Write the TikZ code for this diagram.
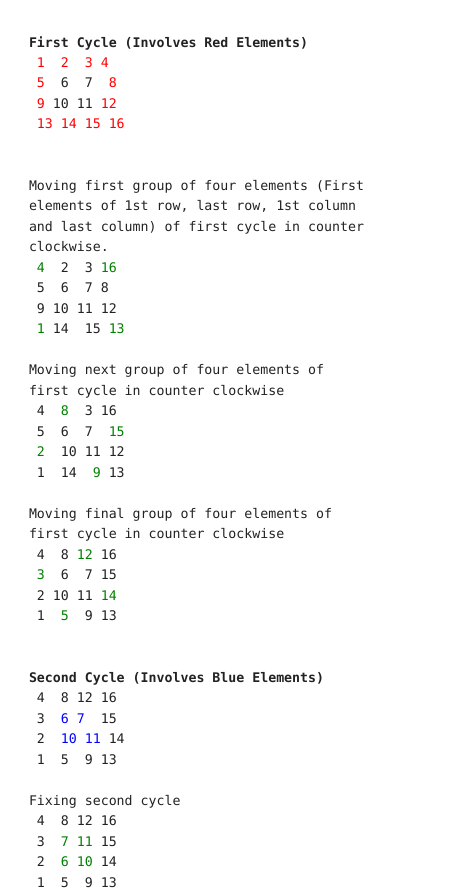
\documentclass[tikz,border=0pt]{standalone}
\usepackage{fontspec}
\setmonofont{DejaVu Sans Mono}
\definecolor{txtc}{HTML}{222222}
\definecolor{myred}{HTML}{FF0000}
\definecolor{mygreen}{HTML}{008000}
\definecolor{myblue}{HTML}{0000FF}
\newcommand\cred[1]{\textcolor{myred}{#1}}
\newcommand\cgreen[1]{\textcolor{mygreen}{#1}}
\newcommand\cblue[1]{\textcolor{myblue}{#1}}
\newcommand\mkline[2]{\node[txtline] (l#1) at (29,{47+20.49*#1}) {#2};}
\tikzset{txtline/.style={anchor=base west, inner sep=0pt, outer sep=0pt, text=txtc,
  font=\ttfamily\fontsize{13.25}{15}\selectfont}}
\begin{document}
\begin{tikzpicture}[x=1pt,y=-1pt]
\path[fill=white] (0,0) rectangle (471,894);
\useasboundingbox (0,0) rectangle (471,894);
\mkline{0}{\textbf{First~Cycle~(Involves~Red~Elements)}}
\mkline{1}{~\cred{1}~~\cred{2}~~\cred{3}~\cred{4}}
\mkline{2}{~\cred{5}~~6~~7~~\cred{8}}
\mkline{3}{~\cred{9}~10~11~\cred{12}}
\mkline{4}{~\cred{13~14~15~16}}
\mkline{7}{Moving first group of four elements (First}
\mkline{8}{elements of 1st row, last row, 1st column}
\mkline{9}{and last column) of first cycle in counter}
\mkline{10}{clockwise.}
\mkline{11}{~\cgreen{4}~~2~~3~\cgreen{16}}
\mkline{12}{~5~~6~~7~8}
\mkline{13}{~9~10~11~12}
\mkline{14}{~\cgreen{1}~14~~15~\cgreen{13}}
\mkline{16}{Moving next group of four elements of}
\mkline{17}{first cycle in counter clockwise}
\mkline{18}{~4~~\cgreen{8}~~3~16}
\mkline{19}{~5~~6~~7~~\cgreen{15}}
\mkline{20}{~\cgreen{2}~~10~11~12}
\mkline{21}{~1~~14~~\cgreen{9}~13}
\mkline{23}{Moving final group of four elements of}
\mkline{24}{first cycle in counter clockwise}
\mkline{25}{~4~~8~\cgreen{12}~16}
\mkline{26}{~\cgreen{3}~~6~~7~15}
\mkline{27}{~2~10~11~\cgreen{14}}
\mkline{28}{~1~~\cgreen{5}~~9~13}
\mkline{31}{\textbf{Second~Cycle~(Involves~Blue~Elements)}}
\mkline{32}{~4~~8~12~16}
\mkline{33}{~3~~\cblue{6}~\cblue{7}~~15}
\mkline{34}{~2~~\cblue{10}~\cblue{11}~14}
\mkline{35}{~1~~5~~9~13}
\mkline{37}{Fixing second cycle}
\mkline{38}{~4~~8~12~16}
\mkline{39}{~3~~\cgreen{7}~\cgreen{11}~15}
\mkline{40}{~2~~\cgreen{6}~\cgreen{10}~14}
\mkline{41}{~1~~5~~9~13}
\end{tikzpicture}
\end{document}
